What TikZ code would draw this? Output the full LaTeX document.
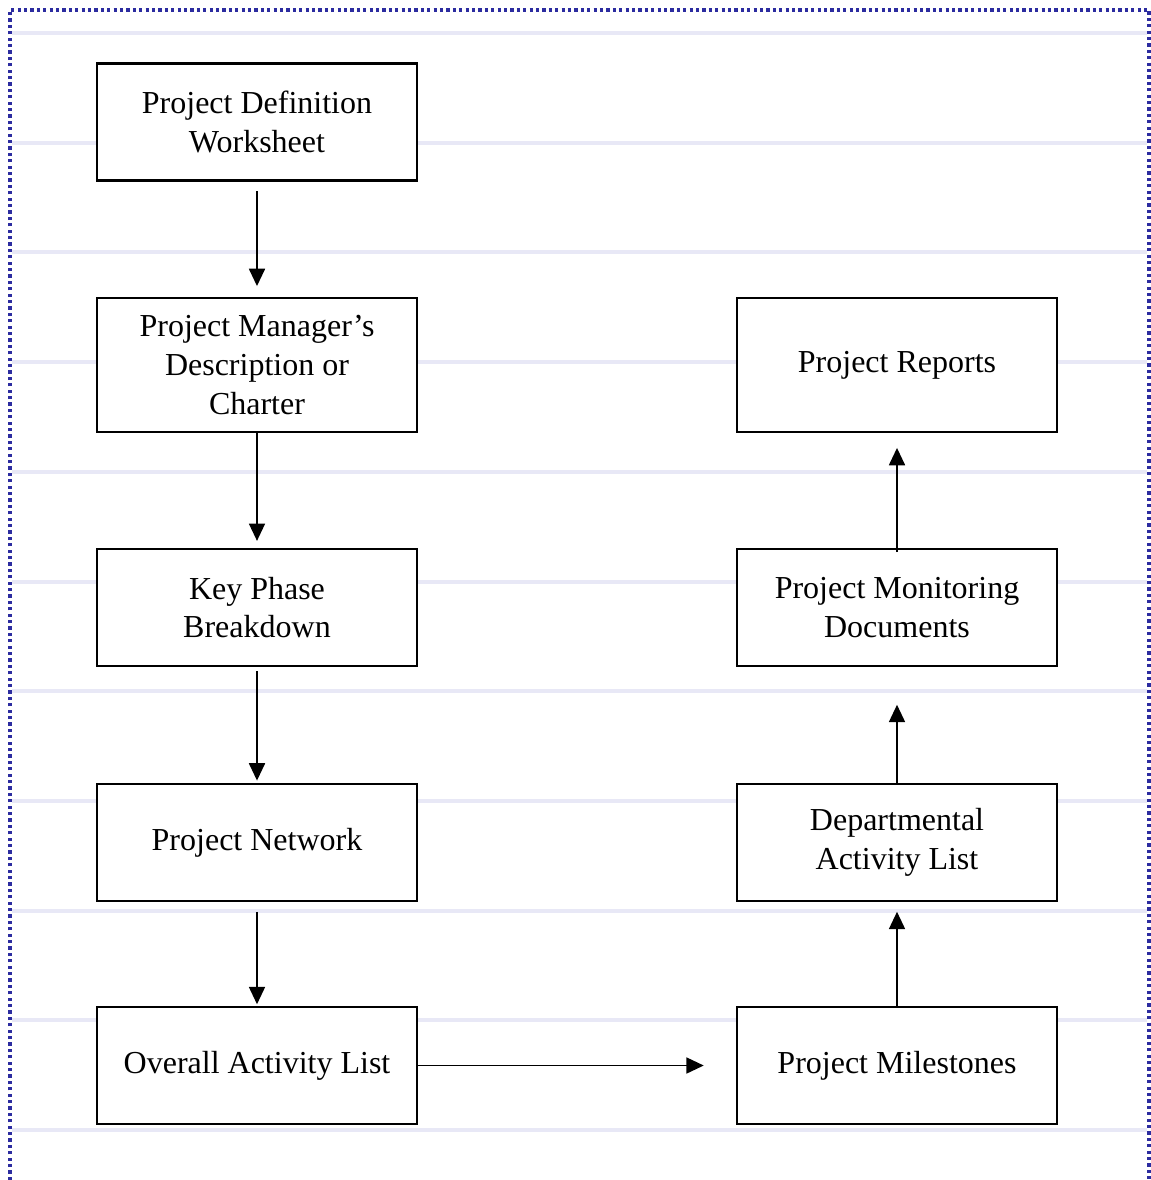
\documentclass[tikz,border=0pt]{standalone}
\usepackage{fontspec}
\setmainfont{Liberation Serif}
\usetikzlibrary{arrows.meta}

\definecolor{dotblue}{RGB}{44,44,160}
\definecolor{ruleline}{RGB}{232,232,246}

\tikzset{
  stagebox/.style={draw, line width=1.9pt, fill=white, align=center,
    minimum width=240pt, minimum height=88pt, inner sep=0pt,
    font=\fontsize{24}{29}\selectfont},
  flow/.style={-{Triangle[length=13pt,width=12pt]}, line width=1.3pt}
}

\begin{document}
\begin{tikzpicture}[x=0.75pt, y=-0.75pt]
  \useasboundingbox (0,0) rectangle (1151,1180);

  % ruled background
  \foreach \k in {0,...,10}
    \draw[ruleline, line width=3pt] (12,33+109.7*\k) -- (1147,33+109.7*\k);

  % dotted frame
  \draw[dotblue, line width=2.4pt, dash pattern=on 2.4pt off 2.4pt]
    (10,1180) -- (10,10) -- (1149,10) -- (1149,1180);

  \begin{scope}[every node/.style={stagebox}]
    % left column
    \node (pdw)  at (257,122)    {Project Definition\\Worksheet};
    \node[minimum height=100.5pt] (pmd) at (257,365) {Project Manager’s\\Description or\\Charter};
    \node (kpb)  at (257,607.5)  {Key Phase\\Breakdown};
    \node (pnet) at (257,842.5)  {Project Network};
    \node (oal)  at (257,1065.5) {Overall Activity List};

    % right column
    \node[minimum height=100.5pt] (prep) at (897,365) {Project Reports};
    \node (pmon) at (897,607.5)  {Project Monitoring\\Documents};
    \node (dal)  at (897,842.5)  {Departmental\\Activity List};
    \node (pms)  at (897,1065.5) {Project Milestones};
  \end{scope}

  % down the left
  \draw[flow, shorten <=7pt, shorten >=8pt] (pdw) edge (pmd);
  \draw[flow, shorten >=5pt] (pmd) edge (kpb);
  \draw[flow, shorten <=3pt, shorten >=1.5pt] (kpb) edge (pnet);
  \draw[flow, shorten <=7pt, shorten >=1pt] (pnet) edge (oal);

  % across
  \draw[flow, shorten >=24pt] (oal) edge (pms);

  % up the right
  \draw[flow, shorten >=7pt] (pms) edge (dal);
  \draw[flow, shorten >=28pt] (dal) edge (pmon);
  \draw[flow, shorten <=-3.5pt, shorten >=11pt] (pmon) edge (prep);
\end{tikzpicture}
\end{document}
